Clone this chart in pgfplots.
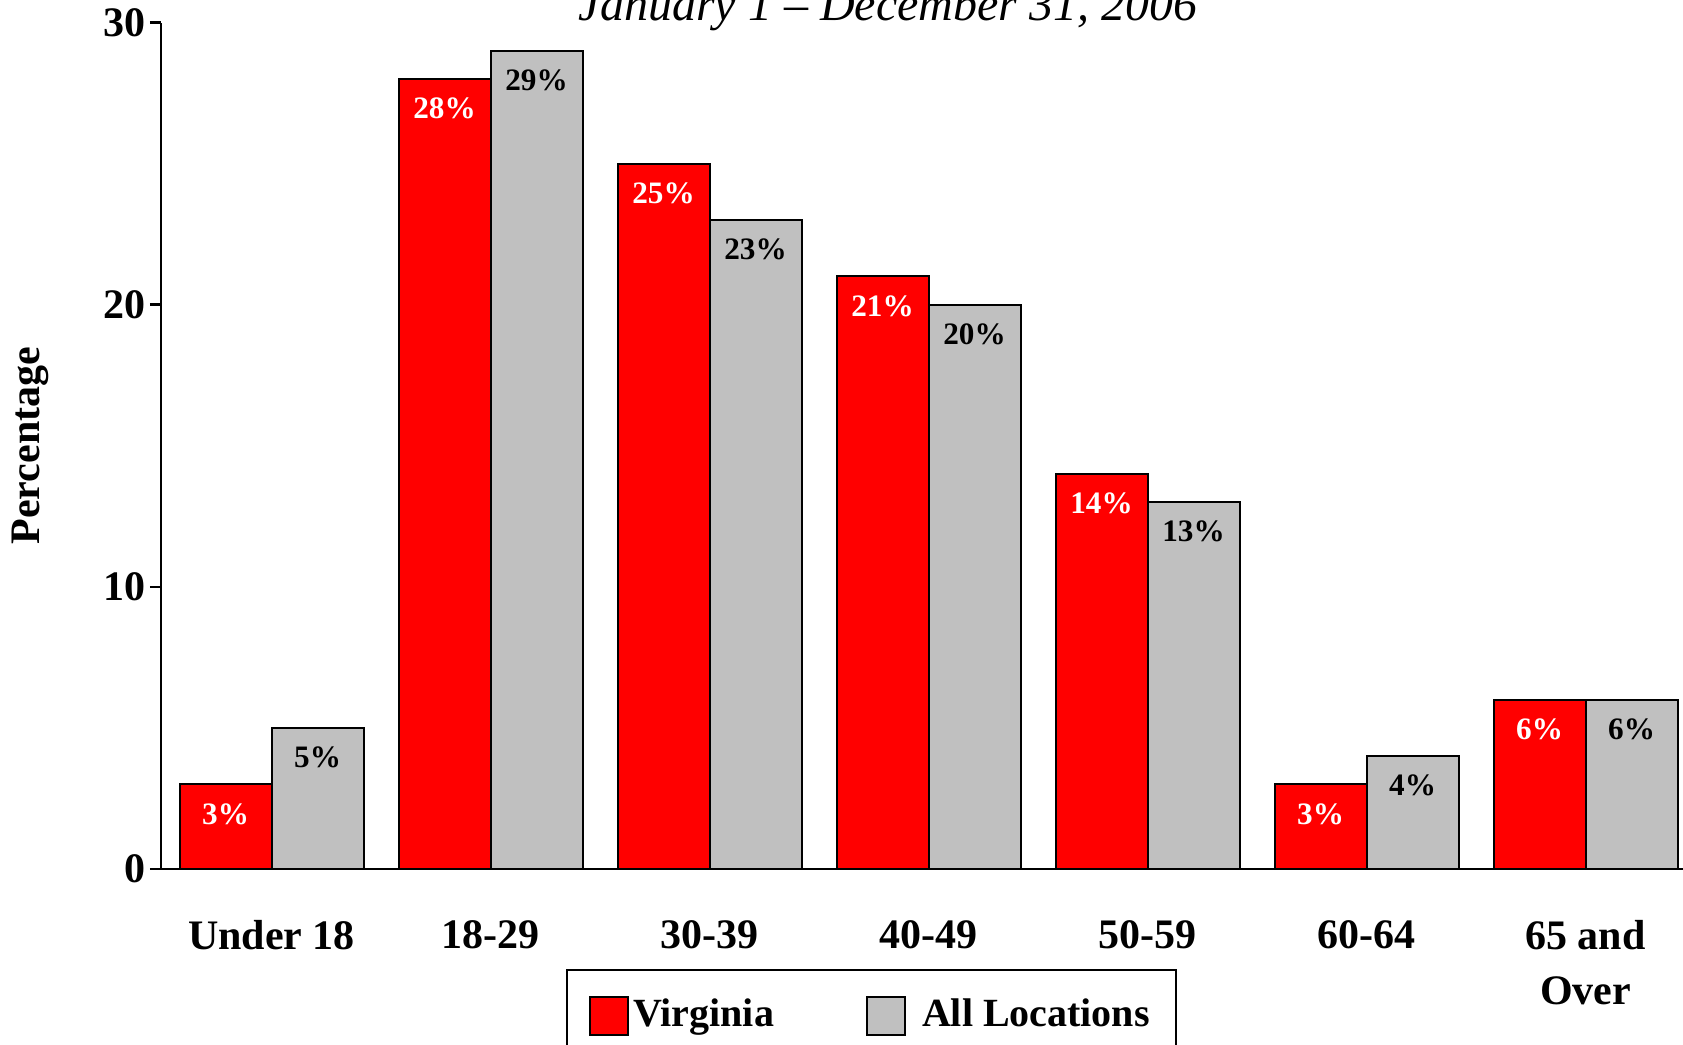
\documentclass[border=0pt]{standalone}
\usepackage{fontspec}
\setmainfont{Liberation Serif}
\usepackage{pgfplots}
\pgfplotsset{compat=1.18}
\definecolor{vared}{RGB}{255,0,0}
\definecolor{allgray}{RGB}{192,192,192}
\begin{document}
\begin{tikzpicture}
\begin{axis}[
  name=ax,
  scale only axis,
  width=380.5pt, height=211.6pt,
  xmin=-0.505, xmax=6.445,
  ymin=0, ymax=30,
  ybar=0pt, bar width=0.42,
  axis x line*=bottom, axis y line*=left,
  axis line style={line width=0.6pt, -},
  ytick={0,10,20,30},
  xtick={0,...,6},
  xticklabels={Under 18,18-29,30-39,40-49,50-59,60-64,{65 and\\Over}},
  xtick style={draw=none},
  ytick style={line width=0.6pt, black},
  tick align=outside,
  major tick length=2.75pt,
  /pgf/number format/assume math mode=true,
  yticklabel style={font=\fontsize{10.5}{12}\selectfont\bfseries, inner sep=1pt},
  xticklabel style={font=\fontsize{10.5}{13.7}\selectfont\bfseries, align=center, inner sep=0pt, yshift=-10pt},
  every axis y label/.style={at={(axis description cs:-0.0861,0.5)}, rotate=90, anchor=center, font=\fontsize{10.5}{12}\selectfont\bfseries},
  ylabel={Percentage},
  legend columns=2,
  legend style={at={(0.266,-0.118)}, anchor=north west, draw=black, line width=0.5pt,
    font=\fontsize{10}{12}\selectfont\bfseries, inner xsep=5.6pt, inner ysep=6.3pt,
    /tikz/every even column/.append style={column sep=22pt}, nodes={inner sep=1pt}},
  legend image code/.code={\draw[#1, line width=0.5pt] (0pt,-4.75pt) rectangle (9.5pt,4.75pt);},
  nodes near coords={\pgfmathprintnumber{\pgfplotspointmeta}\%},
  nodes near coords align={anchor=north},
  every node near coord/.append style={font=\fontsize{7.8}{9}\selectfont\bfseries, inner sep=0pt, yshift=-4.5pt},
]
\addplot[fill=vared, draw=black, line width=0.5pt,
  every node near coord/.append style={text=white}]
  coordinates {(0,3) (1,28) (2,25) (3,21) (4,14) (5,3) (6,6)};
\addplot[fill=allgray, draw=black, line width=0.5pt,
  every node near coord/.append style={text=black}]
  coordinates {(0,5) (1,29) (2,23) (3,20) (4,13) (5,4) (6,6)};
\legend{Virginia,{\hspace{3pt}All Locations}}
\end{axis}
\node[font=\fontsize{12}{14}\selectfont\itshape, anchor=base] at ([xshift=181.8pt,yshift=0.6pt]ax.north west) {January 1 – December 31, 2006};
\pgfresetboundingbox
\path[use as bounding box] ([xshift=-40.25pt,yshift=-44pt]ax.south west) rectangle ([yshift=5.625pt]ax.north east);
\end{tikzpicture}
\end{document}
